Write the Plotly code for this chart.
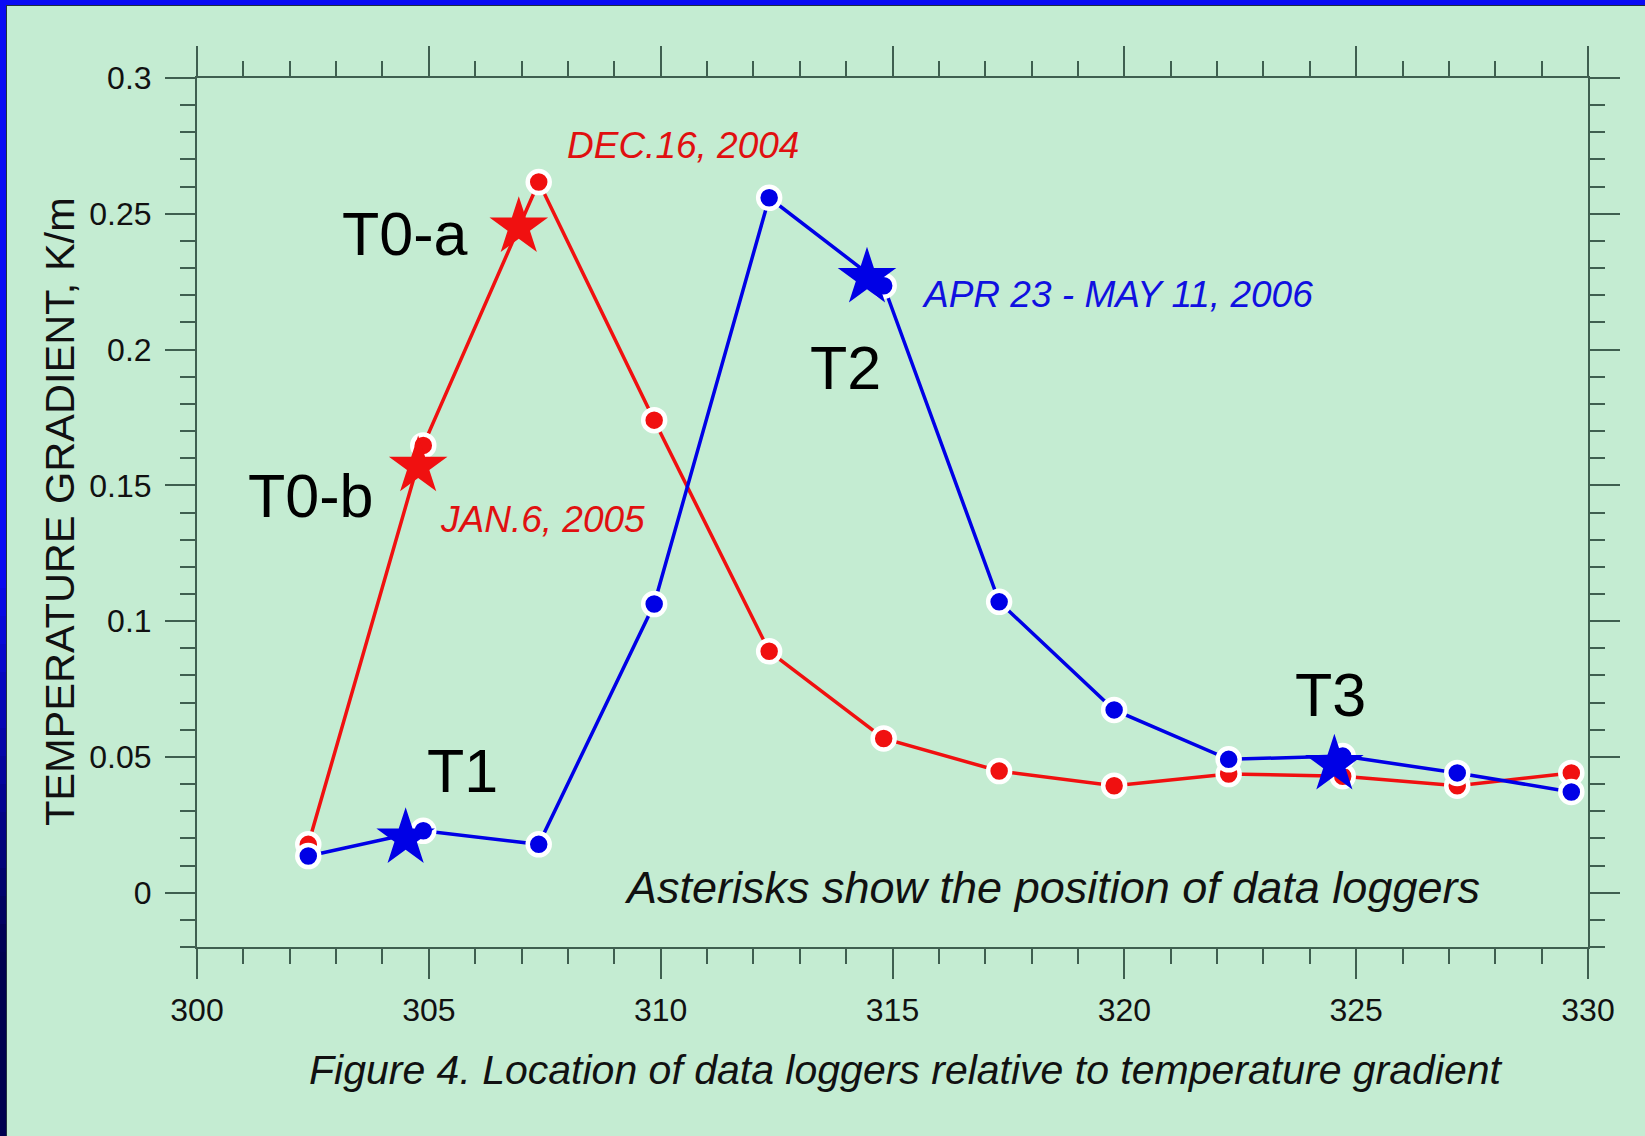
import plotly.graph_objects as go

# Depth positions of the sensor string
depth = [302.4, 304.88, 307.37, 309.86, 312.34, 314.81, 317.30, 319.78,
         322.25, 324.71, 327.18, 329.64]

# Temperature gradient profiles, K/m
grad_2004 = [0.0178, 0.1647, 0.2617, 0.1740, 0.0889, 0.0568, 0.0448, 0.0394,
             0.0437, 0.0429, 0.0394, 0.0441]
grad_2006 = [0.0135, 0.0228, 0.0178, 0.1063, 0.2559, 0.2235, 0.1071, 0.0673,
             0.0491, 0.0503, 0.0441, 0.0371]

# Data logger positions
logger_red_x = [306.94, 304.77]
logger_red_y = [0.2451, 0.1570]
logger_blue_x = [304.50, 314.45, 324.53]
logger_blue_y = [0.0201, 0.2265, 0.0472]

# Logger labels
logger_names = ["T0-a", "T0-b", "T1", "T2", "T3"]
logger_label_x = [304.48, 302.44, 305.72, 313.99, 324.44]
logger_label_y = [0.2424, 0.1461, 0.0448, 0.1933, 0.0727]

# Date labels
date_texts = ["DEC.16, 2004", "JAN.6, 2005", "APR 23 - MAY 11, 2006"]
date_x = [310.49, 307.46, 319.85]
date_y = [0.2753, 0.1376, 0.2204]
date_colors = ["#e01010", "#e01010", "#1010e0"]

x_ticks = [300, 305, 310, 315, 320, 325, 330]
y_ticks = [0, 0.05, 0.1, 0.15, 0.2, 0.25, 0.3]
y_tick_text = ["0", "0.05", "0.1", "0.15", "0.2", "0.25", "0.3"]

W, H = 1645, 1136
ML, MR, MT, MB = 197, 57, 78, 189
PW, PH = W - ML - MR, H - MT - MB

BG = "#c4ecd2"
AXC = "#3f5f50"
RED = "#f01010"
BLUE = "#0000e6"
FONT = "Liberation Sans, Arial, sans-serif"

fig = go.Figure()

for yvals, col in [(grad_2004, RED), (grad_2006, BLUE)]:
    fig.add_trace(go.Scatter(
        x=depth, y=yvals, mode="lines+markers",
        line=dict(color=col, width=3.5),
        marker=dict(color=col, size=22, line=dict(color="white", width=4.5)),
        showlegend=False, hoverinfo="skip"))

fig.add_trace(go.Scatter(
    x=logger_red_x, y=logger_red_y, mode="markers",
    marker=dict(symbol="star", color=RED, size=44, line=dict(width=0)),
    showlegend=False, hoverinfo="skip"))
fig.add_trace(go.Scatter(
    x=logger_blue_x, y=logger_blue_y, mode="markers",
    marker=dict(symbol="star", color=BLUE, size=44, line=dict(width=0)),
    showlegend=False, hoverinfo="skip"))

annotations = []
for t, x, y in zip(logger_names, logger_label_x, logger_label_y):
    annotations.append(dict(x=x, y=y, xref="x", yref="y", text=t, showarrow=False,
                            font=dict(family=FONT, size=61, color="black"),
                            xanchor="center", yanchor="middle"))
for t, x, y, c in zip(date_texts, date_x, date_y, date_colors):
    annotations.append(dict(x=x, y=y, xref="x", yref="y", text="<i>" + t + "</i>",
                            showarrow=False, font=dict(family=FONT, size=37, color=c),
                            xanchor="center", yanchor="middle"))
annotations.append(dict(x=318.45, y=0.0019, xref="x", yref="y",
                        text="<i>Asterisks show the position of data loggers</i>",
                        showarrow=False, font=dict(family=FONT, size=45, color="#111111"),
                        xanchor="center", yanchor="middle"))
annotations.append(dict(x=(906 - ML) / PW, y=(MT + PH - 1070) / PH, xref="paper", yref="paper",
                        text="<i>Figure 4. Location of data loggers relative to temperature gradient</i>",
                        showarrow=False, font=dict(family=FONT, size=41, color="#111111"),
                        xanchor="center", yanchor="middle"))
annotations.append(dict(x=(59 - ML) / PW, y=(MT + PH - 512) / PH, xref="paper", yref="paper",
                        text="TEMPERATURE GRADIENT, K/m", textangle=-90,
                        showarrow=False, font=dict(family=FONT, size=41.5, color="#111111"),
                        xanchor="center", yanchor="middle"))

# Frame strips along the top and left edges
def px_x(p):
    return (p - ML) / PW

def px_y(p):
    return (MT + PH - p) / PH

shapes = [dict(type="rect", xref="paper", yref="paper",
               x0=px_x(0), x1=px_x(W), y0=px_y(0), y1=px_y(5),
               fillcolor="#0a0af5", line=dict(width=0), layer="above")]
n = 14
for i in range(n + 2):
    y0p = 0 if i == 0 else 560 + (i - 1) * 28
    y1p = 560 if i == 0 else (H if i == n + 1 else 560 + i * 28)
    f = min(max((i - 0.5) / n, 0), 1)
    r = int(10 * (1 - f))
    g = int(10 * (1 - f))
    b = int(245 * (1 - f) + 80 * f)
    shapes.append(dict(type="rect", xref="paper", yref="paper",
                       x0=px_x(0), x1=px_x(6), y0=px_y(y0p), y1=px_y(y1p),
                       fillcolor=f"rgb({r},{g},{b})", line=dict(width=0), layer="above"))
shapes.append(dict(type="line", xref="paper", yref="paper",
                   x0=px_x(6), x1=px_x(W), y0=px_y(5.5), y1=px_y(5.5),
                   line=dict(color="#203040", width=1), layer="above"))
shapes.append(dict(type="line", xref="paper", yref="paper",
                   x0=px_x(6.5), x1=px_x(6.5), y0=px_y(5), y1=px_y(H),
                   line=dict(color="#203040", width=1), layer="above"))

axis_common = dict(showgrid=False, zeroline=False, showline=True, linecolor=AXC,
                   linewidth=2, ticks="outside", tickcolor=AXC, tickwidth=2,
                   ticklen=30, mirror="ticks",
                   tickfont=dict(family=FONT, size=32, color="#111111"))

fig.update_layout(
    width=W, height=H,
    margin=dict(l=ML, r=MR, t=MT, b=MB),
    paper_bgcolor=BG, plot_bgcolor=BG,
    xaxis=dict(range=[300, 330], tickvals=x_ticks, ticklabelstandoff=4,
               minor=dict(dtick=1, ticks="outside", ticklen=15, tickcolor=AXC, tickwidth=2),
               **axis_common),
    yaxis=dict(range=[-0.02, 0.3], tickvals=y_ticks, ticktext=y_tick_text, ticklabelstandoff=7,
               minor=dict(dtick=0.01, tick0=0, ticks="outside", ticklen=15, tickcolor=AXC, tickwidth=2),
               **axis_common),
    annotations=annotations,
    shapes=shapes,
)

fig.write_html("out.html")
